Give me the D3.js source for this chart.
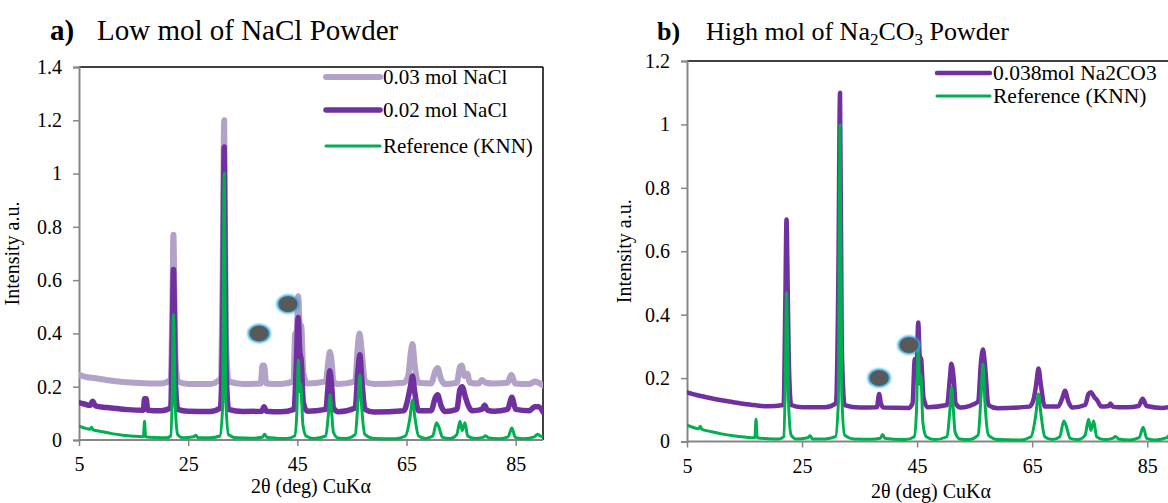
<!DOCTYPE html>
<html>
<head>
<meta charset="utf-8">
<script src="https://cdn.jsdelivr.net/npm/d3@7"></script>
<style>
  html, body { margin: 0; padding: 0; background: #fff; }
  svg { display: block; }
  text { font-family: "Liberation Serif", "Times New Roman", serif; fill: #000; }
</style>
</head>
<body>
<svg id="chart" width="1168" height="503"></svg>
<script>
// XRD patterns, 2θ (deg) vs normalised intensity
const xTicks = [5, 25, 45, 65, 85];
const yTicksA = [0, 0.2, 0.4, 0.6, 0.8, 1, 1.2, 1.4];
const yTicksB = [0, 0.2, 0.4, 0.6, 0.8, 1, 1.2];

const refKNN = [[5,0.052],[6,0.045],[7,0.04],[7.3,0.048],[7.6,0.038],[9,0.032],[11,0.024],[13,0.018],[15,0.014],[16.8,0.012],[17.0,0.07],[17.2,0.012],[19,0.009],[21,0.008],[21.8,0.015],[22.1,0.2],[22.3,0.47],[22.5,0.3],[22.7,0.1],[23.1,0.02],[24,0.008],[26,0.012],[26.4,0.018],[26.8,0.008],[29,0.008],[30.8,0.015],[31.3,0.12],[31.6,1.0],[31.9,0.15],[32.4,0.02],[34,0.008],[37,0.007],[38.6,0.01],[39,0.022],[39.4,0.01],[41,0.007],[43,0.006],[44.5,0.015],[44.9,0.1],[45.2,0.30],[45.45,0.18],[45.65,0.21],[46,0.06],[46.6,0.015],[48,0.006],[50.2,0.015],[50.7,0.1],[51.0,0.17],[51.3,0.1],[51.6,0.03],[52.4,0.008],[54,0.006],[55.6,0.02],[56.1,0.14],[56.45,0.245],[56.8,0.12],[57.4,0.02],[59,0.006],[63,0.005],[64.8,0.015],[65.6,0.08],[66.1,0.15],[66.5,0.09],[67.2,0.015],[68.5,0.006],[69.8,0.015],[70.5,0.065],[70.9,0.05],[71.6,0.01],[73,0.006],[74.2,0.02],[74.8,0.07],[75.2,0.035],[75.7,0.065],[76.2,0.015],[77.5,0.006],[79,0.01],[79.5,0.016],[80,0.008],[82,0.005],[83.6,0.012],[84.3,0.045],[84.9,0.01],[86.5,0.005],[88.4,0.012],[89,0.022],[89.5,0.015],[90,0.012]];

const nacl002 = [[5,0.14],[6,0.135],[7,0.13],[7.5,0.145],[8,0.128],[10,0.122],[12,0.118],[14,0.114],[16.8,0.112],[17.0,0.155],[17.3,0.155],[17.6,0.112],[20,0.11],[21.8,0.12],[22.1,0.4],[22.3,0.64],[22.5,0.45],[22.7,0.2],[23.1,0.115],[25,0.108],[29,0.107],[30.9,0.12],[31.3,0.4],[31.6,1.1],[31.9,0.3],[32.4,0.115],[35,0.107],[38.5,0.108],[38.9,0.125],[39.3,0.108],[42,0.106],[44.4,0.115],[44.8,0.28],[45.15,0.46],[45.45,0.33],[45.7,0.3],[46.1,0.14],[46.8,0.108],[50.2,0.115],[50.7,0.22],[50.95,0.26],[51.3,0.2],[51.6,0.12],[52.5,0.106],[55.6,0.12],[56.1,0.26],[56.45,0.32],[56.8,0.23],[57.4,0.115],[59,0.105],[64.5,0.11],[65.2,0.15],[65.7,0.2],[66.1,0.24],[66.5,0.18],[67.2,0.11],[69.5,0.11],[70.3,0.16],[70.7,0.17],[71.3,0.13],[72,0.107],[74.2,0.115],[74.8,0.19],[75.2,0.2],[75.8,0.16],[76.3,0.13],[77,0.11],[78.8,0.115],[79.3,0.13],[79.8,0.112],[81,0.108],[83.5,0.115],[84.3,0.16],[85,0.115],[87.5,0.11],[88.5,0.125],[89.2,0.125],[90,0.105]];

const nacl003 = [[5,0.245],[6,0.238],[8,0.232],[10,0.225],[13,0.218],[16,0.214],[20,0.212],[21.8,0.225],[22.1,0.5],[22.3,0.77],[22.5,0.5],[22.7,0.3],[23.1,0.22],[25,0.21],[29,0.21],[30.9,0.23],[31.3,0.6],[31.6,1.2],[31.9,0.4],[32.4,0.22],[35,0.21],[38.3,0.212],[38.6,0.28],[38.9,0.28],[39.3,0.212],[42,0.21],[44.3,0.22],[44.6,0.4],[44.8,0.36],[45.15,0.54],[45.45,0.42],[45.7,0.43],[46.1,0.25],[46.8,0.212],[50.2,0.22],[50.7,0.3],[50.95,0.33],[51.3,0.29],[51.6,0.22],[52.5,0.21],[55.6,0.22],[56.1,0.36],[56.4,0.4],[56.8,0.33],[57.4,0.22],[59,0.21],[64.5,0.215],[65.3,0.24],[65.8,0.33],[66.1,0.36],[66.5,0.28],[67.2,0.215],[69.5,0.212],[70.3,0.26],[70.7,0.27],[71.3,0.23],[72,0.21],[74.2,0.215],[74.8,0.275],[75.1,0.28],[75.6,0.24],[76.1,0.25],[76.6,0.215],[78.2,0.212],[78.8,0.225],[79.5,0.215],[81,0.212],[83.5,0.215],[84.2,0.245],[84.9,0.212],[87.5,0.21],[88.5,0.22],[89.2,0.215],[90,0.205]];

const na2co3 = [[5,0.155],[7,0.145],[9,0.137],[11,0.13],[13,0.124],[15,0.118],[17,0.114],[19,0.111],[21.8,0.115],[22.1,0.45],[22.3,0.70],[22.5,0.49],[22.7,0.25],[23.1,0.115],[25,0.108],[29,0.108],[30.9,0.12],[31.3,0.5],[31.6,1.1],[31.9,0.3],[32.4,0.115],[35,0.107],[38.0,0.108],[38.4,0.15],[38.7,0.12],[39.2,0.107],[43.5,0.106],[44.2,0.12],[44.6,0.26],[44.9,0.24],[45.2,0.375],[45.45,0.27],[45.7,0.26],[46.1,0.14],[46.8,0.108],[50.2,0.115],[50.7,0.2],[50.95,0.245],[51.35,0.2],[51.7,0.12],[52.5,0.107],[55.6,0.125],[56.1,0.25],[56.45,0.29],[56.8,0.24],[57.4,0.115],[59,0.105],[64.5,0.11],[65.2,0.13],[65.7,0.18],[66.1,0.23],[66.5,0.18],[67.2,0.11],[69.5,0.11],[70.3,0.14],[70.7,0.16],[71.3,0.125],[72,0.107],[74.2,0.115],[74.8,0.15],[75.2,0.155],[75.8,0.14],[76.3,0.13],[77,0.11],[78.3,0.112],[78.6,0.12],[79.0,0.11],[80,0.108],[81.5,0.108],[83.5,0.112],[84.2,0.135],[84.9,0.112],[87.5,0.106],[89,0.11],[89.6,0.12],[90,0.115]];

// impurity-phase markers (2θ, intensity)
const markersA = [[38.0, 0.40], [43.3, 0.51]];
const markersB = [[38.4, 0.20], [43.6, 0.304]];

const seriesA = [
  { name: "0.03 mol NaCl", values: nacl003, color: "#b3a2c7", width: 6 },
  { name: "0.02 mol NaCl", values: nacl002, color: "#7030a0", width: 5.5 },
  { name: "Reference (KNN)", values: refKNN, color: "#00b050", width: 3 }
];
const seriesB = [
  { name: "0.038mol Na2CO3", values: na2co3, color: "#7030a0", width: 4.5 },
  { name: "Reference (KNN)", values: refKNN, color: "#00b050", width: 3 }
];

const svg = d3.select("#chart");
const defs = svg.append("defs");
const glow = defs.append("filter").attr("id", "glow")
  .attr("x", "-50%").attr("y", "-50%").attr("width", "200%").attr("height", "200%");
glow.append("feGaussianBlur").attr("stdDeviation", 1.2);

const axisGrey = "#868686";

function panel(cfg) {
  const x = d3.scaleLinear().domain([5, 90]).range([cfg.left, cfg.right]);
  const y = d3.scaleLinear().domain([0, cfg.yMax]).range([cfg.bottom, cfg.top]);
  const g = svg.append("g");

  const clipId = "clip-" + cfg.id;
  defs.append("clipPath").attr("id", clipId).append("rect")
    .attr("x", cfg.left).attr("y", cfg.top - 8)
    .attr("width", cfg.right - cfg.left).attr("height", cfg.bottom - cfg.top + 12);

  // plot-area frame: top and right edges
  g.append("line").attr("x1", cfg.left).attr("x2", cfg.right)
    .attr("y1", cfg.top).attr("y2", cfg.top)
    .attr("stroke", "#000").attr("stroke-width", 1.5);
  g.append("line").attr("x1", cfg.right).attr("x2", cfg.right)
    .attr("y1", cfg.top).attr("y2", cfg.bottom)
    .attr("stroke", "#000").attr("stroke-width", 1.5);

  // axes
  const yAxis = d3.axisLeft(y).tickValues(cfg.yTicks).tickSize(6).tickPadding(11)
    .tickFormat(d => d3.format("~g")(d));
  const gy = g.append("g").attr("transform", `translate(${cfg.left},0)`).call(yAxis);
  const xAxis = d3.axisBottom(x).tickValues(xTicks).tickSize(6).tickPadding(11);
  const gx = g.append("g").attr("transform", `translate(0,${cfg.bottom})`).call(xAxis);
  [gx, gy].forEach(a => {
    a.select(".domain").attr("stroke", axisGrey).attr("stroke-width", 2);
    a.selectAll(".tick line").attr("stroke", axisGrey).attr("stroke-width", 1.5);
    a.selectAll(".tick text").attr("font-size", 20).attr("fill", "#000");
  });
  gx.select(".domain").attr("d", `M${cfg.left},0H${cfg.right}`);

  // patterns
  const line = d3.line().x(d => x(d[0])).y(d => y(d[1])).curve(d3.curveMonotoneX);
  const lines = g.append("g").attr("clip-path", `url(#${clipId})`);
  cfg.series.forEach(s => {
    lines.append("path").datum(s.values).attr("d", line)
      .attr("fill", "none").attr("stroke", s.color).attr("stroke-width", s.width)
      .attr("stroke-linejoin", "round").attr("stroke-linecap", "round");
  });

  // markers
  const mk = g.append("g");
  cfg.markers.forEach(m => {
    mk.append("ellipse").attr("cx", x(m[0])).attr("cy", y(m[1])).attr("rx", 11.5).attr("ry", 9.5)
      .attr("fill", "#2ea7e0").attr("filter", "url(#glow)");
    mk.append("ellipse").attr("cx", x(m[0])).attr("cy", y(m[1])).attr("rx", 9.5).attr("ry", 7.8)
      .attr("fill", "#595959");
  });

  // legend
  const lg = g.append("g");
  cfg.series.forEach((s, i) => {
    const ly = cfg.legY[i];
    lg.append("line").attr("x1", cfg.legX).attr("x2", cfg.legX + cfg.legLen)
      .attr("y1", ly).attr("y2", ly).attr("stroke", s.color)
      .attr("stroke-width", s.width).attr("stroke-linecap", "round");
    lg.append("text").attr("x", cfg.legX + cfg.legLen + 3).attr("y", ly + 7)
      .attr("font-size", cfg.legFont).text(s.name);
  });

  // axis titles
  g.append("text").attr("transform", `translate(${cfg.yTitleX},${(cfg.top + cfg.bottom) / 2}) rotate(-90)`)
    .attr("text-anchor", "middle").attr("font-size", 20).text("Intensity a.u.");
  g.append("text").attr("x", cfg.xTitleX).attr("y", cfg.xTitleY)
    .attr("text-anchor", "middle").attr("font-size", 20).text("2θ (deg) CuKα");

  // panel title
  const t = g.append("text").attr("x", cfg.titleX).attr("y", 40).attr("font-size", cfg.titleFont);
  t.append("tspan").attr("font-weight", "bold").text(cfg.tag);
  t.append("tspan").attr("x", cfg.titleX + cfg.titleGap).text(cfg.title[0]);
  if (cfg.title.length > 1) {
    const sub = Math.round(cfg.titleFont * 0.66);
    t.append("tspan").attr("font-size", sub).attr("dy", 5).text(cfg.title[1]);
    t.append("tspan").attr("dy", -5).text(cfg.title[2]);
    t.append("tspan").attr("font-size", sub).attr("dy", 5).text(cfg.title[3]);
    t.append("tspan").attr("dy", -5).text(cfg.title[4]);
  }
}

panel({
  id: "a", left: 79, right: 543, top: 67, bottom: 440, yMax: 1.4, yTicks: yTicksA,
  series: seriesA, markers: markersA,
  legX: 326, legLen: 54, legY: [77, 110, 146], legFont: 21,
  yTitleX: 19, xTitleX: 311, xTitleY: 493,
  titleX: 50, titleGap: 47, titleFont: 29, tag: "a)", title: ["Low mol of NaCl Powder"]
});

panel({
  id: "b", left: 687, right: 1176, top: 61, bottom: 441.5, yMax: 1.2, yTicks: yTicksB,
  series: seriesB, markers: markersB,
  legX: 937, legLen: 53, legY: [73, 96], legFont: 21.5,
  yTitleX: 631, xTitleX: 931, xTitleY: 498,
  titleX: 657, titleGap: 49, titleFont: 26, tag: "b)", title: ["High mol of Na", "2", "CO", "3", " Powder"]
});
</script>
</body>
</html>
